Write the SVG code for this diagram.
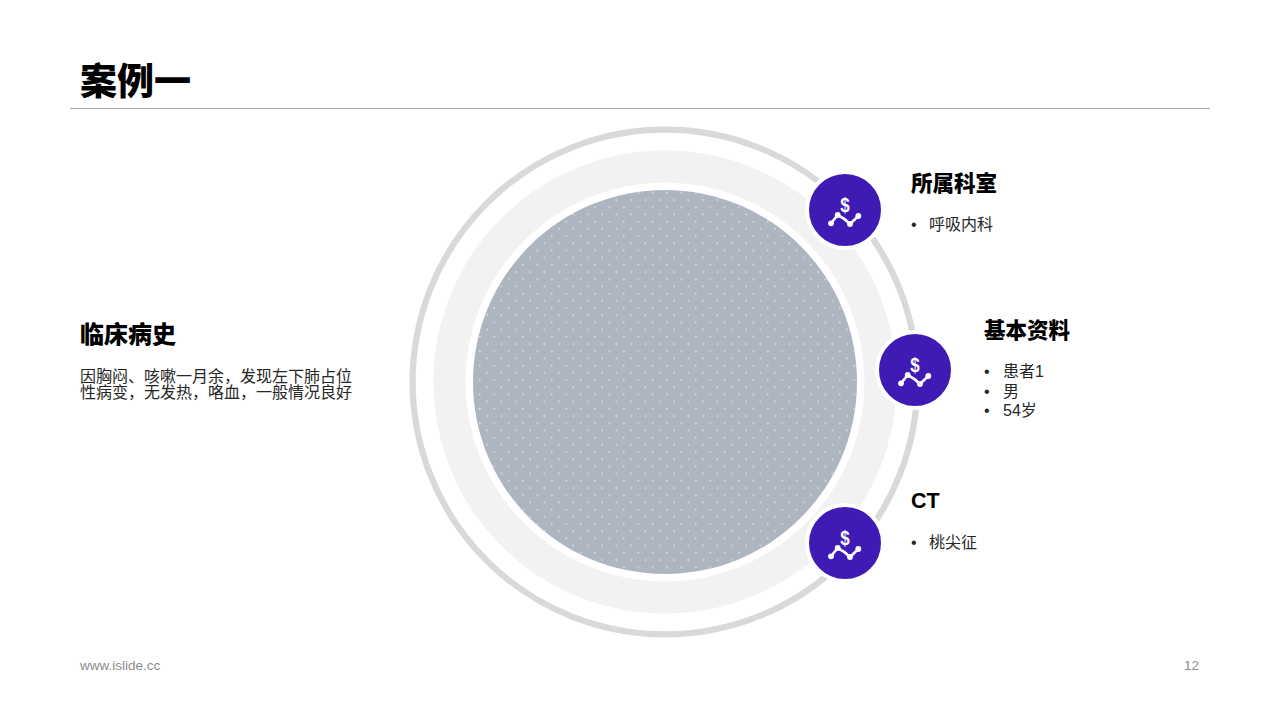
<svg xmlns="http://www.w3.org/2000/svg" width="1280" height="720" viewBox="0 0 1280 720">
<style>
.cjk{font-family:"Liberation Sans","Noto Sans CJK SC",sans-serif}
.h{font-size:21.5px;font-weight:900;fill:#000}
.b{font-size:16px;fill:#262626}
.f{font-size:13.5px;fill:#8c8c8c}
.badge{fill:#3f1ab5;stroke:#fff;stroke-width:4}
.ico{fill:none;stroke:#fff;stroke-width:2.6;stroke-linejoin:round}
.dot{fill:#fff}
</style>
<defs>
<pattern id="dots" width="14.4" height="14.4" patternUnits="userSpaceOnUse" x="1" y="2">
<circle cx="3.6" cy="3.6" r="0.85" fill="#dfe3e8"/>
<circle cx="10.800" cy="10.800" r="0.85" fill="#dfe3e8"/>
</pattern>
<g id="icon">
<path class="ico" d="M-14,13.300 L-7.300,5 Q-1,8 5,14 L13.300,6"/>
<circle class="dot" cx="-14" cy="13.300" r="2.900"/><circle class="dot" cx="-7.300" cy="5" r="2.900"/><circle class="dot" cx="5" cy="14" r="2.900"/><circle class="dot" cx="13.300" cy="6" r="2.900"/>
<text transform="translate(0 1.500) scale(.85 1)" text-anchor="middle" class="cjk" font-size="20" font-weight="700" fill="#fff">$</text>
</g>
</defs>
<rect width="1280" height="720" fill="#fff"/>
<g id="title"><text x="80" y="95" class="cjk" font-size="37" font-weight="900">案例一</text>
<line x1="70" y1="108.500" x2="1210" y2="108.500" stroke="#a6a6a6" stroke-width="1"/></g>
<g id="rings">
<circle cx="665" cy="382" r="252.400" fill="none" stroke="#d9d9d9" stroke-width="6.200"/>
<circle cx="665" cy="382" r="215.500" fill="none" stroke="#f2f2f2" stroke-width="32"/>
<circle cx="665" cy="382" r="192" fill="#adb5c1"/>
<circle cx="665" cy="382" r="192" fill="url(#dots)"/>
</g>
<g id="history"><text x="80" y="342.500" class="cjk" font-size="24" font-weight="900">临床病史</text>
<text x="80" y="381.500" class="cjk b">因胸闷、咳嗽一月余，发现左下肺占位</text>
<text x="80" y="398" class="cjk b">性病变，无发热，咯血，一般情况良好</text></g>
<g id="node1"><circle class="badge" cx="845" cy="210" r="38"/><use href="#icon" x="845" y="210"/>
<text x="911" y="191" class="cjk h">所属科室</text>
<text x="911" y="230" class="cjk b">•</text><text x="929" y="230" class="cjk b">呼吸内科</text></g>
<g id="node2"><circle class="badge" cx="915" cy="370" r="38"/><use href="#icon" x="915" y="370"/>
<text x="984" y="338" class="cjk h">基本资料</text>
<text x="984" y="377" class="cjk b">•</text><text x="1003" y="377" class="cjk b">患者1</text>
<text x="984" y="397" class="cjk b">•</text><text x="1003" y="397" class="cjk b">男</text>
<text x="984" y="416" class="cjk b">•</text><text x="1003" y="416" class="cjk b">54岁</text></g>
<g id="node3"><circle class="badge" cx="845" cy="543" r="38"/><use href="#icon" x="845" y="543"/>
<text x="911" y="508" class="cjk h">CT</text>
<text x="911" y="548" class="cjk b">•</text><text x="929" y="548" class="cjk b">桃尖征</text></g>
<g id="footer"><text x="80" y="670" class="cjk f">www.islide.cc</text><text x="1199" y="670" text-anchor="end" class="cjk f">12</text></g>
</svg>
